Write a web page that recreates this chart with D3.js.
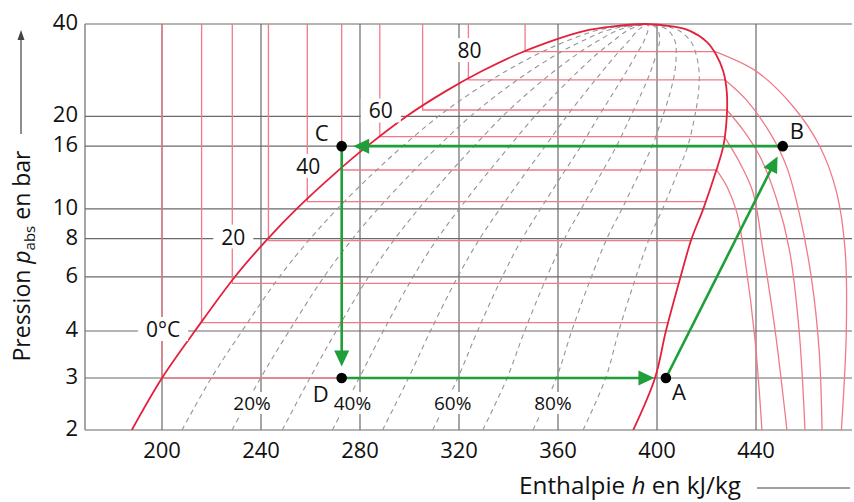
<!DOCTYPE html>
<html><head><meta charset="utf-8">
<script src="https://cdn.jsdelivr.net/npm/d3@7"></script>
<style>body{margin:0;background:#fff} svg{display:block} text{font-family:"Open Sans",sans-serif;fill:#111}</style>
</head><body><svg id="c" width="854" height="502"></svg>
<script>
// ---------- data ----------
const hTicks = [200, 240, 280, 320, 360, 400, 440];
const pTicks = [2, 3, 4, 6, 8, 10, 16, 20, 40];

// saturation dome (pressure in bar, enthalpy in kJ/kg)
const satP = [2, 3, 4, 6, 8, 10, 13, 16, 20, 24, 28, 32, 35, 38, 39.3, 40];
const hLiq = [187.8, 200, 213.3, 229.4, 242.8, 254.4, 269.7, 282.9, 298.7, 314, 328.9, 344, 356.4, 370.8, 382.5, 395.3];
const hVap = [390.4, 399.2, 403.6, 409.5, 414, 418.7, 423.5, 426.8, 428.2, 428.2, 426.8, 423.7, 420.1, 413.3, 406.1, 395.3];

// isotherms
const isoT    = [0, 10, 20, 30, 40, 50, 60, 70, 80, 90];
const isoPsat = [3, 4.26, 5.72, 7.88, 10.55, 13.38, 17.18, 20.99, 26.3, 32.5];
const isoHliq = [200, 216, 228.4, 243, 258.7, 272.6, 288, 305.3, 323.8, 346.7];
const isoHvap = [399.2, 404.5, 408.6, 413.7, 419.5, 424.1, 427.2, 428.2, 427.5, 423.5];

// superheated isotherms
const superT = [50, 60, 70, 80, 90];
const superH = [
  [424.1, 428.3, 432.3, 435.6, 439.6, 442.4],
  [427.2, 433.5, 438.8, 442.8, 447.7, 452.5],
  [428.2, 434.7, 441.6, 448.4, 453.5, 457.4, 459.8],
  [427.5, 436.2, 445.6, 452.4, 457.8, 462.5, 465.5, 466.7],
  [423.5, 440.3, 455.1, 465.9, 472.6, 476.0, 476.5, 474.5]
];
const superP = [
  [13.38, 11.8, 9.7, 6.8, 3.79, 2],
  [17.18, 14.1, 11.3, 7.35, 4.03, 2],
  [20.99, 18.1, 14.8, 10.7, 7.35, 4.03, 2],
  [26.3, 22.6, 17.7, 13.7, 9.43, 5.87, 3.56, 2],
  [32.5, 27.98, 21.5, 15.9, 11.3, 7.35, 4.03, 2]
];

// vapour quality lines
const qualities = [0.1, 0.2, 0.3, 0.4, 0.5, 0.6, 0.7, 0.8, 0.9];
const qualityLabels = ["20%", "40%", "60%", "80%"];
const qualityLabelQ = [0.2, 0.4, 0.6, 0.8];

// isotherm labels
const isoLabels = ["0°C", "20", "40", "60", "80"];
const isoLabelT = [0, 20, 40, 60, 80];
const isoLabelP = [4, 8, 13.6, 20.6, 32.4];

// cycle
const cycleNames = ["A", "B", "C", "D"];
const cycleH = [403.6, 450.8, 272.6, 272.6];
const cycleP = [3, 16, 16, 3];

// ---------- layout ----------
const svg = d3.select("#c");
const L = 85, R = 852, T = 24, B = 430;
const x = d3.scaleLinear().domain([200, 440]).range([162, 756]);
const y = d3.scaleLog().domain([2, 3, 4, 40]).range([430, 378, 331, 24]);

const grid = "#6a6a6a", pink = "#f07a88", red = "#e3213d", green = "#1f9e3a";

svg.append("clipPath").attr("id", "pc").append("rect")
  .attr("x", L).attr("y", T - 2).attr("width", R - L).attr("height", B - T + 2);

// grid
const g = svg.append("g");
g.selectAll(".vg").data(hTicks).join("line")
  .attr("x1", d => x(d)).attr("x2", d => x(d)).attr("y1", T).attr("y2", B)
  .attr("stroke", grid).attr("stroke-width", 1.2);
g.selectAll(".hg").data(pTicks).join("line")
  .attr("x1", L).attr("x2", R).attr("y1", d => y(d)).attr("y2", d => y(d))
  .attr("stroke", grid).attr("stroke-width", 1.2);
g.append("line").attr("x1", L).attr("x2", L).attr("y1", T).attr("y2", B)
  .attr("stroke", grid).attr("stroke-width", 1.2);

// tick labels
svg.selectAll(".yl").data(pTicks).join("text")
  .attr("x", 78).attr("y", d => y(d) + 6).attr("text-anchor", "end")
  .attr("font-size", 22).text(d => d);
svg.selectAll(".xl").data(hTicks).join("text")
  .attr("x", d => x(d)).attr("y", 458).attr("text-anchor", "middle")
  .attr("font-size", 22).text(d => d);

const plot = svg.append("g").attr("clip-path", "url(#pc)");
const lineC = d3.line().x(d => x(d[0])).y(d => y(d[1])).curve(d3.curveCatmullRom.alpha(0.5));

// isotherms: liquid vertical + two-phase horizontal
isoT.forEach((t, i) => {
  plot.append("path")
    .attr("d", d3.line()([[x(isoHliq[i]), y(40)], [x(isoHliq[i]), y(isoPsat[i])], [x(isoHvap[i]), y(isoPsat[i])]]))
    .attr("fill", "none").attr("stroke", pink).attr("stroke-width", 1.3);
});
superT.forEach((t, i) => {
  plot.append("path").attr("d", lineC(superH[i].map((h, j) => [h, superP[i][j]])))
    .attr("fill", "none").attr("stroke", pink).attr("stroke-width", 1.3);
});

// quality lines
qualities.forEach(q => {
  const pts = satP.map((p, i) => [hLiq[i] + q * (hVap[i] - hLiq[i]), p]);
  plot.append("path").attr("d", lineC(pts))
    .attr("fill", "none").attr("stroke", "#959595").attr("stroke-width", 1.1)
    .attr("stroke-dasharray", "5,4");
});

// saturation dome
const dome = satP.map((p, i) => [hLiq[i], p])
  .concat(satP.slice(0, -1).map((p, i) => [hVap[i], p]).reverse());
plot.append("path").attr("d", lineC(dome))
  .attr("fill", "none").attr("stroke", red).attr("stroke-width", 1.8);

// labels with white background
function bgLabel(txt, cx, cy, size) {
  const gg = svg.append("g");
  const t = gg.append("text").attr("x", cx).attr("y", cy).attr("text-anchor", "middle")
    .attr("dominant-baseline", "central").attr("font-size", size).text(txt);
  const bb = t.node().getBBox();
  gg.insert("rect", "text").attr("x", bb.x - 8).attr("y", bb.y + 2).attr("width", bb.width + 16)
    .attr("height", bb.height - 4).attr("fill", "#fff");
}
isoLabels.forEach((s, i) => {
  const k = isoT.indexOf(isoLabelT[i]);
  bgLabel(s, x(isoHliq[k]) + 1, y(isoLabelP[i]) - 2, 21);
});
qualityLabels.forEach((s, i) => {
  const q = qualityLabelQ[i];
  const hq = hLiq[0] + q * (hVap[0] - hLiq[0]);
  bgLabel(s, x(hq) + 20, 403, 19);
});

// cycle
const cx = i => x(cycleH[i]), cy = i => y(cycleP[i]);
const order = [0, 1, 2, 3, 0];
for (let k = 0; k < 4; k++) {
  const a = order[k], b = order[k + 1];
  const x1 = cx(a), y1 = cy(a), x2 = cx(b), y2 = cy(b);
  const dx = x2 - x1, dy = y2 - y1, len = Math.hypot(dx, dy), ux = dx / len, uy = dy / len;
  const tx = x2 - ux * 11.5, ty = y2 - uy * 11.5;
  const bx = tx - ux * 16, by = ty - uy * 16;
  svg.append("line").attr("x1", x1).attr("y1", y1).attr("x2", bx + ux * 2).attr("y2", by + uy * 2)
    .attr("stroke", green).attr("stroke-width", 2.6);
  svg.append("path").attr("d", `M${tx},${ty}L${bx - uy * 7.5},${by + ux * 7.5}L${bx + uy * 7.5},${by - ux * 7.5}Z`)
    .attr("fill", green);
}
svg.selectAll(".pt").data(cycleNames).join("circle")
  .attr("cx", (d, i) => cx(i)).attr("cy", (d, i) => cy(i)).attr("r", 5.3).attr("fill", "#000");
const lblOff = [[6, 22, "start"], [7, -7, "start"], [-13, -5, "end"], [-13, 24, "end"]];
svg.selectAll(".pl").data(cycleNames).join("text")
  .attr("x", (d, i) => cx(i) + lblOff[i][0]).attr("y", (d, i) => cy(i) + lblOff[i][1])
  .attr("text-anchor", (d, i) => lblOff[i][2]).attr("font-size", 22).text(d => d);

// axis titles
const yt = svg.append("text").attr("transform", "translate(30,256) rotate(-90)")
  .attr("text-anchor", "middle").attr("font-size", 23);
yt.append("tspan").text("Pression ");
yt.append("tspan").attr("font-style", "italic").text("p");
yt.append("tspan").attr("font-size", 15).attr("dy", 5).text("abs");
yt.append("tspan").attr("dy", -5).text(" en bar");
svg.append("line").attr("x1", 21).attr("x2", 21).attr("y1", 134).attr("y2", 38)
  .attr("stroke", "#444").attr("stroke-width", 1.2);
svg.append("path").attr("d", "M21,30L17.5,40L24.5,40Z").attr("fill", "#444");

const xt = svg.append("text").attr("x", 519).attr("y", 494).attr("font-size", 24.3);
xt.append("tspan").text("Enthalpie ");
xt.append("tspan").attr("font-style", "italic").text("h");
xt.append("tspan").text(" en kJ/kg");
svg.append("line").attr("x1", 757).attr("x2", 850).attr("y1", 488).attr("y2", 488)
  .attr("stroke", "#444").attr("stroke-width", 1.2);
</script></body></html>
